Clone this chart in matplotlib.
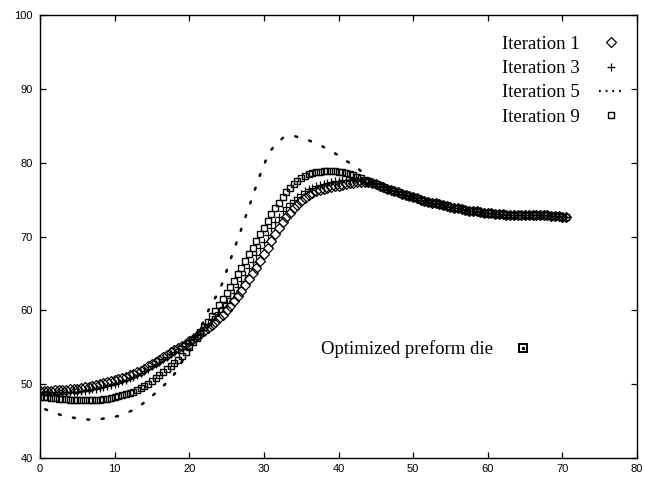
import numpy as np
import matplotlib
matplotlib.use('Agg')
import matplotlib.pyplot as plt
from matplotlib.lines import Line2D

# x positions of the nodes along the die profile
x_head = np.arange(0, 46, 0.5)
x_tail = np.arange(46, 71, 0.5)

# Iteration 1 (diamonds)
iter1_head = [
    49.1, 49.1, 49.1, 49.1, 49.15, 49.15, 49.2, 49.25, 49.3, 49.35,
    49.4, 49.5, 49.55, 49.65, 49.75, 49.85, 50.0, 50.1, 50.25, 50.4,
    50.55, 50.7, 50.85, 51.0, 51.2, 51.4, 51.6, 51.85, 52.1, 52.4,
    52.7, 53.0, 53.3, 53.65, 54.0, 54.3, 54.6, 54.9, 55.2, 55.5,
    55.8, 56.15, 56.5, 56.85, 57.2, 57.6, 58.0, 58.4, 58.9, 59.4,
    60.0, 60.6, 61.2, 61.9, 62.6, 63.4, 64.2, 65.0, 65.8, 66.7,
    67.6, 68.5, 69.4, 70.3, 71.1, 71.9, 72.6, 73.2, 73.8, 74.3,
    74.8, 75.2, 75.6, 75.9, 76.1, 76.3, 76.5, 76.6, 76.7, 76.8,
    76.9, 77.0, 77.1, 77.2, 77.3, 77.35, 77.4, 77.4, 77.35, 77.3,
    77.1, 76.9,
]

# Iteration 3 (plus)
iter3_head = [
    48.9, 48.9, 48.9, 48.9, 48.9, 48.9, 48.9, 48.95, 48.95, 49.0,
    49.0, 49.05, 49.1, 49.2, 49.3, 49.4, 49.5, 49.6, 49.75, 49.9,
    50.05, 50.2, 50.4, 50.6, 50.8, 51.0, 51.25, 51.5, 51.8, 52.1,
    52.4, 52.7, 53.0, 53.35, 53.7, 54.05, 54.4, 54.8, 55.2, 55.6,
    56.0, 56.4, 56.8, 57.25, 57.7, 58.2, 58.7, 59.25, 59.8, 60.4,
    61.0, 61.7, 62.4, 63.2, 64.0, 64.85, 65.7, 66.6, 67.5, 68.4,
    69.3, 70.2, 71.1, 71.9, 72.7, 73.4, 74.0, 74.5, 75.0, 75.4,
    75.8, 76.1, 76.4, 76.6, 76.8, 77.0, 77.15, 77.3, 77.4, 77.5,
    77.55, 77.6, 77.65, 77.65, 77.6, 77.55, 77.5, 77.4, 77.3, 77.2,
    77.1, 76.9,
]

# Iteration 9 (squares)
iter9_head = [
    48.3, 48.25, 48.2, 48.15, 48.1, 48.05, 48.0, 47.95, 47.9, 47.9,
    47.85, 47.85, 47.8, 47.8, 47.8, 47.85, 47.9, 47.95, 48.0, 48.1,
    48.2, 48.35, 48.5, 48.65, 48.8, 49.0, 49.2, 49.45, 49.7, 50.0,
    50.4, 50.8, 51.2, 51.6, 52.0, 52.4, 52.8, 53.3, 53.8, 54.4,
    55.0, 55.65, 56.3, 57.0, 57.7, 58.45, 59.2, 59.95, 60.7, 61.5,
    62.3, 63.15, 64.0, 64.9, 65.8, 66.7, 67.6, 68.5, 69.4, 70.3,
    71.2, 72.1, 73.0, 73.8, 74.6, 75.3, 76.0, 76.6, 77.1, 77.5,
    77.9, 78.15, 78.4, 78.55, 78.7, 78.8, 78.9, 78.9, 78.9, 78.85,
    78.8, 78.7, 78.6, 78.45, 78.3, 78.1, 77.9, 77.7, 77.5, 77.3,
    77.1, 76.9,
]

# all iterations coincide after x = 46
tail = [
    76.7, 76.5, 76.3, 76.15, 76.0, 75.8, 75.6, 75.45, 75.3, 75.15,
    75.0, 74.85, 74.7, 74.6, 74.5, 74.35, 74.2, 74.1, 74.0, 73.9,
    73.8, 73.7, 73.6, 73.5, 73.45, 73.4, 73.3, 73.25, 73.2, 73.15,
    73.1, 73.05, 73.0, 72.95, 72.95, 72.9, 72.9, 72.9, 72.9, 72.95,
    72.95, 72.95, 72.9, 72.9, 72.85, 72.8, 72.8, 72.75, 72.7, 72.65,
]

# Iteration 5 (dotted)
iter5_x = [0.7, 1.8, 3.1, 4.8, 6.5, 8.2, 9.8, 11.5, 13.0, 14.5, 15.9, 17.1, 18.2, 19.0,
           19.9, 21.4, 22.8, 23.6, 24.4, 25.5, 26.8, 28.0, 29.4, 30.6, 31.5, 32.6, 34.1,
           35.8, 37.3, 38.6, 39.8, 41.1, 42.4, 43.4, 44.5, 46.0]
iter5_y = [46.6, 46.2, 45.7, 45.4, 45.2, 45.3, 45.5, 46.0, 46.8, 47.9, 49.2, 50.3, 51.6, 53.0,
           54.2, 57.4, 60.5, 61.9, 63.6, 66.8, 70.5, 74.0, 78.1, 81.2, 82.4, 83.4, 83.6,
           83.1, 82.5, 81.8, 81.1, 80.2, 79.4, 78.5, 77.6, 76.7]

labels = ['Iteration 1', 'Iteration 3', 'Iteration 5', 'Iteration 9']
xticks = [0, 10, 20, 30, 40, 50, 60, 70, 80]
yticks = [40, 50, 60, 70, 80, 90, 100]

serif = ['Liberation Serif', 'DejaVu Serif']
sans = ['Liberation Sans', 'DejaVu Sans']

fig = plt.figure(figsize=(6.45, 4.78), dpi=100)
ax = fig.add_axes([40 / 645, 20 / 478, 597 / 645, 443 / 478])

x_all = np.concatenate([x_head, x_tail])
mk = dict(linestyle='none', color='black', mfc='none')
d1 = dict(marker='D', ms=4.6, mew=0.9)
d3 = dict(marker='+', ms=5.5, mew=0.9)
d9 = dict(marker='s', ms=5.0, mew=1.0)

ax.plot(x_all, iter1_head + tail, **d1, **mk)
ax.plot(x_all, iter3_head + tail, **d3, **mk)
ax.plot(iter5_x, iter5_y, color='black', lw=1.8, linestyle=(0, (0.8, 5.0)),
        dash_capstyle='round')
ax.plot(x_all, iter9_head + tail, **d9, **mk)

ax.set_xlim(0, 80)
ax.set_ylim(40, 100)
ax.set_xticks(xticks)
ax.set_yticks(yticks)
ax.tick_params(direction='in', top=True, right=True, length=4, width=0.9)
ax.tick_params(axis='x', pad=4.5)
ax.tick_params(axis='y', pad=5)
for lab in ax.get_xticklabels() + ax.get_yticklabels():
    lab.set_family(sans)
    lab.set_fontsize(8)
for s in ax.spines.values():
    s.set_linewidth(1.0)

# legend handles (gnuplot style: text first, sample after)
handles = [
    Line2D([], [], color='black', mfc='none', linestyle='none', **d1),
    Line2D([], [], color='black', mfc='none', linestyle='none', **d3),
    Line2D([], [], color='black', lw=1.6, linestyle=(0, (0.8, 2.2))),
    Line2D([], [], color='black', mfc='none', linestyle='none', **d9),
]
leg = ax.legend(handles, labels, loc='upper right', bbox_to_anchor=(0.977, 0.953),
                frameon=False, markerfirst=False, prop={'family': serif, 'size': 13.5},
                handlelength=1.3, handletextpad=1.0, labelspacing=0.38,
                borderpad=0, borderaxespad=0)
ax.add_artist(leg)

die = (Line2D([], [], linestyle='none', marker='s', ms=6, mfc='none', mec='black', mew=1.4),
       Line2D([], [], linestyle='none', marker='.', ms=3, color='black'))
ax.legend([die], ['Optimized preform die'], loc='center left', bbox_to_anchor=(0.47, 0.245),
          frameon=False, markerfirst=False, prop={'family': serif, 'size': 13.5},
          handlelength=1.3, handletextpad=0.97, borderpad=0, borderaxespad=0)

fig.savefig('out.png', dpi=100)
